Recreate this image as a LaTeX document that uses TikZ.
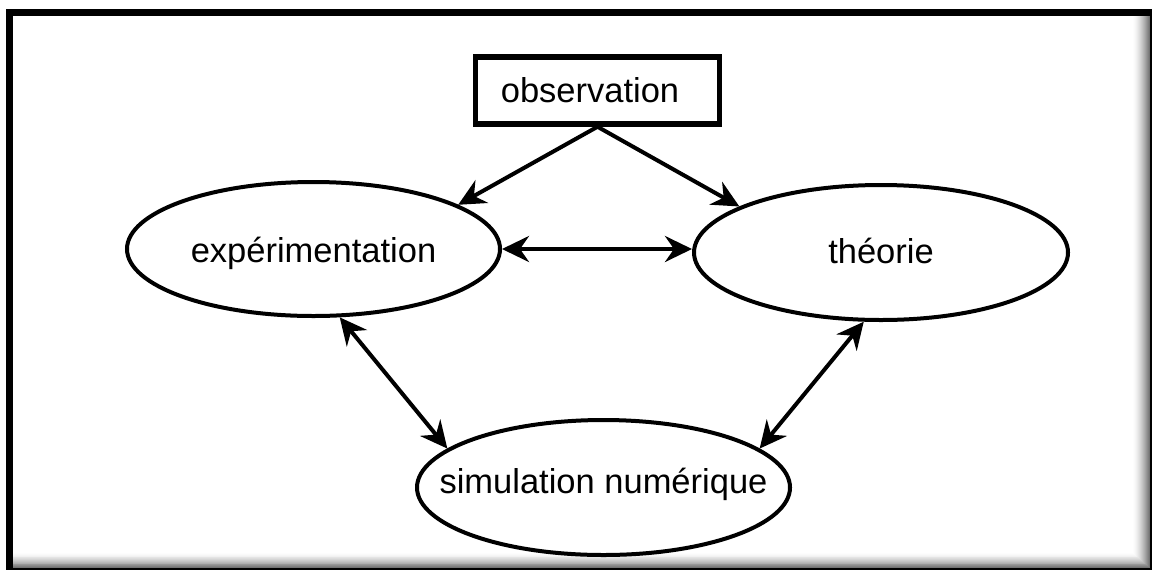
\documentclass[tikz,border=0pt]{standalone}
\usepackage{fontspec}
\setmainfont{Liberation Sans}
\usetikzlibrary{shapes.geometric,arrows.meta}
\begin{document}
\begin{tikzpicture}[x=1pt,y=-1pt,
  ell/.style={ellipse,draw,line width=4pt,inner sep=0pt,fill=white,text depth=0pt,
    font=\fontsize{34.5}{40}\selectfont},
  obsbox/.style={rectangle,draw,line width=5.5pt,inner sep=0pt,fill=white},
  lbl/.style={inner sep=0pt,text depth=0pt,font=\fontsize{34.5}{40}\selectfont},
  arr/.style={line width=4pt,-{Stealth[length=27pt,width=26pt,inset=9pt]}},
  darr/.style={line width=4pt,{Stealth[length=27pt,width=26pt,inset=9pt]}-{Stealth[length=27pt,width=26pt,inset=9pt]}}]
\useasboundingbox (0,0) rectangle (1155,571);
% frame with inner shadow
\fill[black] (6,9) rectangle (1152,570);
\foreach \i in {0,...,17}{
  \pgfmathsetmacro\g{55*(1-\i/17)^1.6}
  \fill[black!\g] (13,16) rectangle ({1150-\i},{568-0.88*\i});
}
% nodes
\node[obsbox,minimum width=244pt,minimum height=67pt] (obs) at (597.5,90.5) {};
\node[lbl,text height=23pt] (obstxt) at (590,90.5) {observation};
\node[ell,minimum width=373pt,minimum height=134pt,text height=26pt] (exp) at (313.5,249) {\makebox[0pt]{expérimentation}};
\node[ell,minimum width=374pt,minimum height=135pt,text height=21pt] (theo) at (881,252.5) {\makebox[0pt]{théorie}};
\node[ell,minimum width=373pt,minimum height=135pt,text height=11pt] (sim) at (603.5,487.5) {\makebox[0pt]{simulation numérique}};
% connectors
\draw[arr] (obs.south) -- (exp.17);
\draw[arr] (obs.south) -- (theo.162);
\draw[darr] (exp.east) -- (theo.west |- exp.east);
\draw[darr] (exp.-69) -- (sim.166.5);
\draw[darr] (theo.-104) -- (sim.14.5);
\end{tikzpicture}
\end{document}
